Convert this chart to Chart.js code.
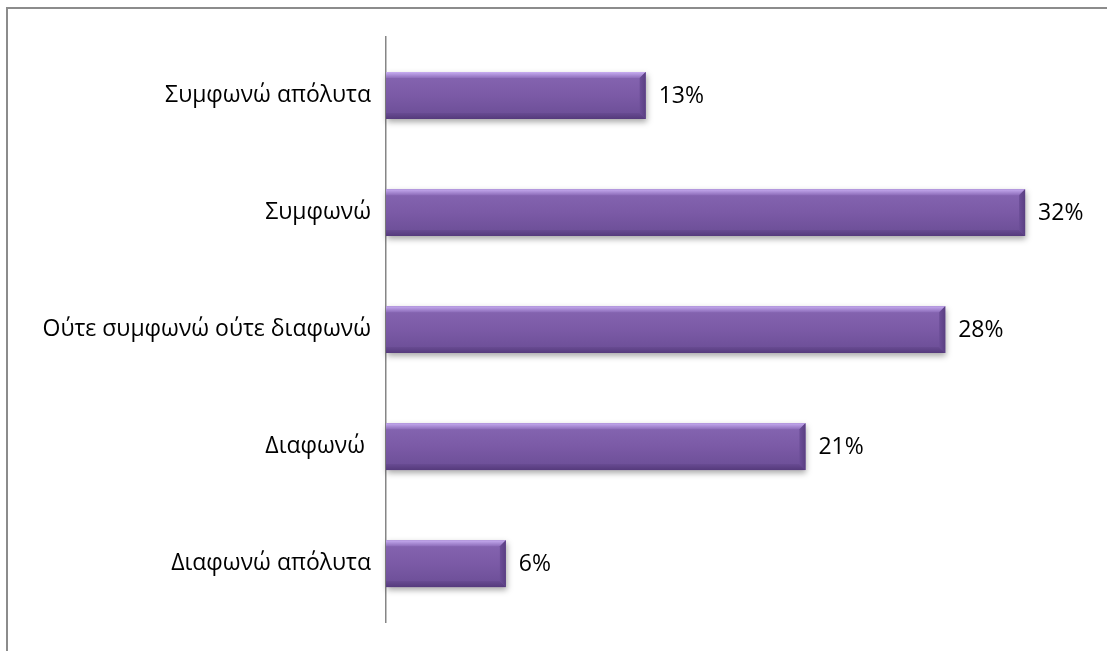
<!DOCTYPE html>
<html>
<head>
<meta charset="utf-8">
<script src="https://cdn.jsdelivr.net/npm/chart.js@4.4.1/dist/chart.umd.min.js"></script>
<style>
  html, body { margin: 0; padding: 0; background: #fff; overflow: hidden; }
  #wrap { position: absolute; left: 0; top: 0; width: 1107px; height: 651px; }
  #frame { position: absolute; left: 6px; top: 7px; width: 1120px; height: 700px;
           border-top: 2px solid #8c8c8c; border-left: 2px solid #8c8c8c; }
  canvas { position: absolute; left: 0; top: 0; }
</style>
</head>
<body>
<div id="wrap">
  <div id="frame"></div>
  <canvas id="graficoRespostas" width="1107" height="651"></canvas>
</div>
<script>
const categorias = ['Συμφωνώ απόλυτα', 'Συμφωνώ', 'Ούτε συμφωνώ ούτε διαφωνώ', 'Διαφωνώ ', 'Διαφωνώ απόλυτα'];
const percentuais = [13, 32, 28, 21, 6];
const rotulos = ['13%', '32%', '28%', '21%', '6%'];

const FONTE = "'Open Sans', 'Noto Sans', sans-serif";

// sombra e chanfro das barras, desenhados a partir dos elementos do Chart.js
const barras3d = {
    id: 'barras3d',
    beforeDatasetsDraw(chart) {
        const ctx = chart.ctx;
        chart.getDatasetMeta(0).data.forEach(bar => {
            const left = bar.base, right = bar.x;
            const top = bar.y - bar.height / 2, h = bar.height;
            ctx.save();
            ctx.shadowColor = 'rgba(0,0,0,0.35)';
            ctx.shadowBlur = 6;
            ctx.shadowOffsetX = 1;
            ctx.shadowOffsetY = 3;
            ctx.fillStyle = '#7b5aa6';
            ctx.fillRect(left, top, right - left, h);
            ctx.restore();
        });
    },
    afterDatasetsDraw(chart) {
        const ctx = chart.ctx;
        const b = 6;
        chart.getDatasetMeta(0).data.forEach((bar, i) => {
            const left = bar.base, right = bar.x;
            const top = bar.y - bar.height / 2, bottom = bar.y + bar.height / 2;
            ctx.save();
            // corpo
            let g = ctx.createLinearGradient(0, top, 0, bottom);
            g.addColorStop(0, '#8666b2');
            g.addColorStop(0.5, '#7b5aa6');
            g.addColorStop(1, '#6a4d95');
            ctx.fillStyle = g;
            ctx.fillRect(left, top, right - left, bottom - top);
            // topo claro
            g = ctx.createLinearGradient(0, top, 0, top + b);
            g.addColorStop(0, '#c6acf0');
            g.addColorStop(1, '#8d6dba');
            ctx.fillStyle = g;
            ctx.beginPath();
            ctx.moveTo(left, top); ctx.lineTo(right, top);
            ctx.lineTo(right - b, top + b); ctx.lineTo(left, top + b);
            ctx.closePath(); ctx.fill();
            // base escura
            g = ctx.createLinearGradient(0, bottom - b, 0, bottom);
            g.addColorStop(0, '#684b92');
            g.addColorStop(1, '#553a7c');
            ctx.fillStyle = g;
            ctx.beginPath();
            ctx.moveTo(left, bottom - b); ctx.lineTo(right - b, bottom - b);
            ctx.lineTo(right, bottom); ctx.lineTo(left, bottom);
            ctx.closePath(); ctx.fill();
            // lateral direita
            g = ctx.createLinearGradient(right - b, 0, right, 0);
            g.addColorStop(0, '#6c4e98');
            g.addColorStop(1, '#5a3f82');
            ctx.fillStyle = g;
            ctx.beginPath();
            ctx.moveTo(right - b, top + b); ctx.lineTo(right, top);
            ctx.lineTo(right, bottom); ctx.lineTo(right - b, bottom - b);
            ctx.closePath(); ctx.fill();
            // rótulo de valor
            ctx.fillStyle = '#000';
            ctx.font = '23px ' + FONTE;
            ctx.textAlign = 'left';
            ctx.textBaseline = 'middle';
            ctx.fillText(rotulos[i], right + 13, bar.y + 1);
            ctx.restore();
        });
    }
};

const grafico = new Chart(document.getElementById('graficoRespostas').getContext('2d'), {
    type: 'bar',
    data: {
        labels: categorias,
        datasets: [{
            data: percentuais,
            backgroundColor: 'rgba(0,0,0,0)',
            borderWidth: 0,
            barPercentage: 0.4,
            categoryPercentage: 1
        }]
    },
    options: {
        indexAxis: 'y',
        responsive: false,
        animation: false,
        events: [],
        layout: { padding: { top: 37, bottom: 21, right: 22, left: 0 } },
        plugins: { legend: { display: false }, tooltip: { enabled: false } },
        scales: {
            x: { display: false, min: 0, max: 35 },
            y: {
                afterFit(scale) { scale.width = 386; },
                grid: { display: false, drawTicks: false },
                border: { display: true, color: '#868686', width: 1.5 },
                ticks: {
                    padding: 15,
                    color: '#000',
                    font: { family: FONTE, size: 23 }
                }
            }
        }
    },
    plugins: [barras3d]
});
</script>
</body>
</html>
